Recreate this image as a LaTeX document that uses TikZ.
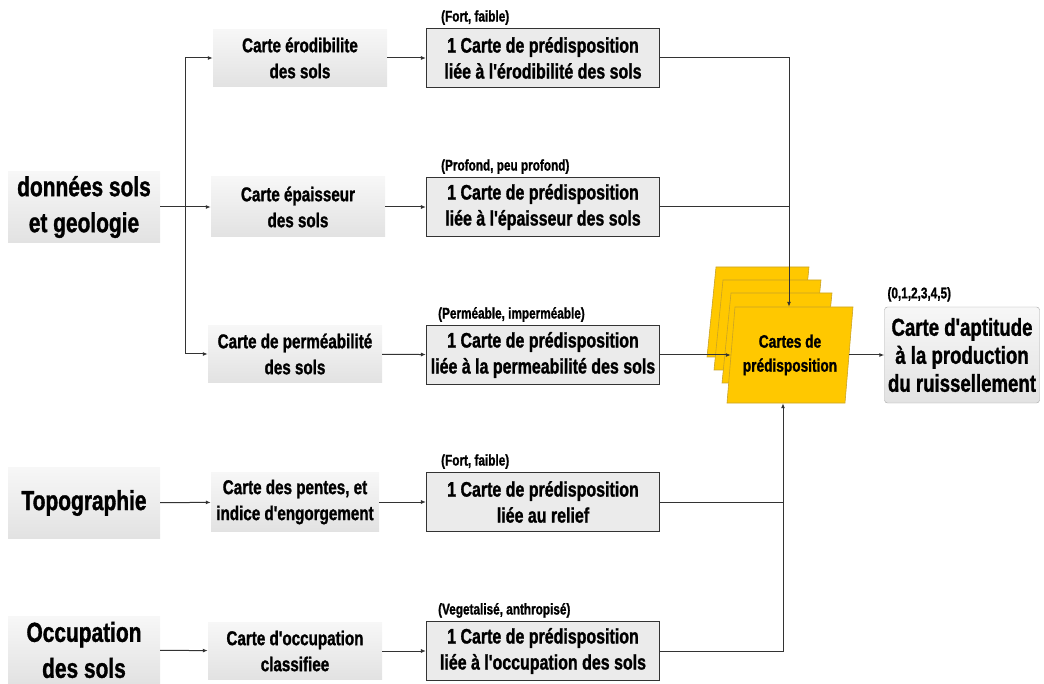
\documentclass[tikz,border=0pt]{standalone}
\usepackage{fontspec}
\setmainfont{Liberation Sans}[FakeStretch=0.76,Ligatures=TeXOff,BoldFeatures={FakeBold=1.2}]
\usepackage{tikz}
\usetikzlibrary{arrows.meta,calc,positioning}
\definecolor{cinza}{HTML}{EBEBEB}
\definecolor{cinzaclaro}{HTML}{F7F7F7}
\definecolor{cinzaescuro}{HTML}{E2E2E2}
\definecolor{ouro}{HTML}{FFC800}
\definecolor{ourobord}{HTML}{C9A227}
\definecolor{traco}{HTML}{333333}

\begin{document}
\begin{tikzpicture}[x=1pt,y=-1pt,
  fonte/.style 2 args={align=center,font=\bfseries\fontsize{#1}{#2}\selectfont,inner sep=0pt},
  dado/.style={fonte={27.5}{36},minimum width=152pt,minimum height=71pt,
               top color=cinzaclaro,bottom color=cinzaescuro},
  carte/.style={fonte={20}{26},minimum width=174pt,minimum height=57pt,
                top color=cinzaclaro,bottom color=cinzaescuro},
  predis/.style={fonte={21}{26},draw=traco,line width=1.1pt,fill=cinza,
                 minimum width=233pt,minimum height=59pt},
  classe/.style={font=\bfseries\fontsize{15.5}{17}\selectfont,inner sep=0pt,anchor=south west},
  arr/.style={-{Latex[length=5pt,width=4pt]},line width=1pt,traco},
  lin/.style={line width=1pt,traco}
]
  \useasboundingbox (0,0) rectangle (1044,684);

  % donnees d'entree
  \node[dado] (sols) at (84,207) {données sols\\et geologie};
  \node[dado] (topo) at (84,503) {Topographie};
  \node[dado,minimum height=67pt] (occ) at (84,650) {Occupation\\des sols};

  % cartes intermediaires
  \node[carte] (erod) at (300,58) {Carte érodibilite\\des sols};
  \node[carte,minimum height=60pt] (epai) at (298,207) {Carte épaisseur\\des sols};
  \node[carte] (perm) at (295,354) {Carte de perméabilité\\des sols};
  \node[carte,minimum width=168pt,minimum height=59pt] (pente) at (295,502) {Carte des pentes, et\\indice d'engorgement};
  \node[carte] (ocls) at (295,651) {Carte d'occupation\\classifiee};

  % cartes de predisposition
  \node[predis] (p1) at (543,58) {1 Carte de prédisposition\\liée à l'érodibilité des sols};
  \node[predis] (p2) at (543,207) {1 Carte de prédisposition\\liée à l'épaisseur des sols};
  \node[predis] (p3) at (543,355) {1 Carte de prédisposition\\liée à la permeabilité des sols};
  \node[predis] (p4) at (543,502) {1 Carte de prédisposition\\liée au relief};
  \node[predis] (p5) at (543,651) {1 Carte de prédisposition\\liée à l'occupation des sols};

  \node[classe] (c1) at ($(p1.north west)+(15,-3)$) {(Fort, faible)};
  \node[classe] (c2) at ($(p2.north west)+(15,-3)$) {(Profond, peu profond)};
  \node[classe] (c3) at ($(p3.north west)+(12,-3)$) {(Perméable, imperméable)};
  \node[classe] (c4) at ($(p4.north west)+(15,-3)$) {(Fort, faible)};
  \node[classe] (c5) at ($(p5.north west)+(12,-3)$) {(Vegetalisé, anthropisé)};

  % pile de cartes
  \foreach \xa/\ya/\xb in {716/267/809,723/280/821,731/293/832}
    \filldraw[fill=ouro,draw=ourobord,line width=0.6pt]
      (\xa,\ya) -- (\xb,\ya) -- (\xb-9,\ya+90) -- (\xa-9,\ya+90) -- cycle;
  \filldraw[fill=ouro,draw=ourobord,line width=0.6pt]
    (735,307) -- (853,307) -- (845,403) -- (727,403) -- cycle;
  \node[fonte={18}{24},minimum width=118pt,minimum height=96pt] (pile) at (790,355) {Cartes de\\prédisposition};

  \node[fonte={24.5}{28},draw=gray!70,rounded corners=3pt,top color=cinzaclaro,bottom color=cinzaescuro,
        minimum width=155pt,minimum height=96pt] (apt) at (962,355) {Carte d'aptitude\\à la production\\du ruissellement};
  \node[classe] (c6) at ($(apt.north west)+(3,-5)$) {(0,1,2,3,4,5)};

  % connexions
  \coordinate (jsols) at (185,0);
  \coordinate (jhaut) at (789,0);
  \coordinate (jbas) at (783,0);
  \draw[lin] (jsols |- erod) -- (jsols |- perm);
  \draw[arr] (sols) -- (epai);
  \draw[arr] (jsols |- erod) -- (erod);
  \draw[arr] (jsols |- perm) -- (perm);
  \draw[arr] (topo) -- (pente);
  \draw[arr] (occ) -- (ocls);
  \draw[arr] (erod) -- (p1);
  \draw[arr] (epai) -- (p2);
  \draw[arr] (perm) -- (p3);
  \draw[arr] (pente) -- (p4);
  \draw[arr] (ocls) -- (p5);

  \draw[arr] (p1.east) -- (jhaut |- p1) -- (jhaut |- pile.north);
  \draw[lin] (p2.east) -- (jhaut |- p2);
  \draw[arr] (p3.east) -- (pile.west);
  \draw[arr] (p5.east) -- (jbas |- p5) -- (jbas |- pile.south);
  \draw[lin] (p4.east) -- (jbas |- p4);
  \draw[arr] (pile.east) -- (apt.west);
\end{tikzpicture}
\end{document}
